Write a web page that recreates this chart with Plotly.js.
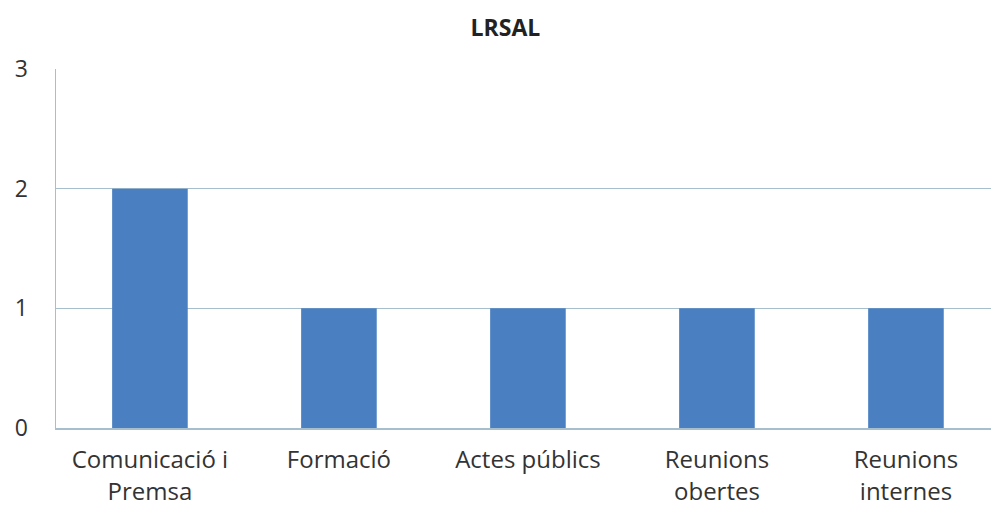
<!DOCTYPE html>
<html>
<head>
<meta charset="utf-8">
<script src="https://cdn.plot.ly/plotly-3.0.1.min.js"></script>
<style>html,body{margin:0;padding:0;background:#fff;}#chart{width:991px;height:507px;}</style>
</head>
<body>
<div id="chart"></div>
<script>
const categories = ["Comunicació i<br>Premsa", "Formació", "Actes públics", "Reunions<br>obertes", "Reunions<br>internes"];
const values = [2, 1, 1, 1, 1];
const yTicks = [0, 1, 2, 3];

const trace = {
  type: "bar",
  x: categories,
  y: values,
  width: 0.4,
  marker: {color: "#4a80c2", line: {width: 0}},
  hoverinfo: "x+y"
};

const layout = {
  width: 991,
  height: 507,
  margin: {l: 56, r: 0, t: 69, b: 79},
  paper_bgcolor: "#ffffff",
  plot_bgcolor: "#ffffff",
  font: {family: "Open Sans, sans-serif", color: "#333333"},
  title: {text: "<b>LRSAL</b>", font: {size: 23, color: "#222222"}, x: 0.51, xanchor: "center", y: 0.945, yanchor: "middle"},
  showlegend: false,
  bargap: 0.6,
  xaxis: {
    type: "category",
    range: [-0.497, 4.45],
    showgrid: false,
    showline: true,
    linecolor: "#a7bfcc",
    linewidth: 1.5,
    ticks: "",
    tickfont: {size: 24, color: "#333333"},
    ticklabelstandoff: 10,
    zeroline: false
  },
  yaxis: {
    range: [0, 3],
    tickvals: yTicks,
    ticktext: yTicks.map(String),
    showgrid: true,
    gridcolor: "#a7bfcc",
    gridwidth: 1.5,
    showline: true,
    linecolor: "#a7bfcc",
    linewidth: 1.5,
    zeroline: false,
    ticks: "",
    tickfont: {size: 23, color: "#333333"},
    ticklabelstandoff: 22
  }
};

Plotly.newPlot("chart", [trace], layout, {displayModeBar: false, staticPlot: true});
</script>
</body>
</html>
